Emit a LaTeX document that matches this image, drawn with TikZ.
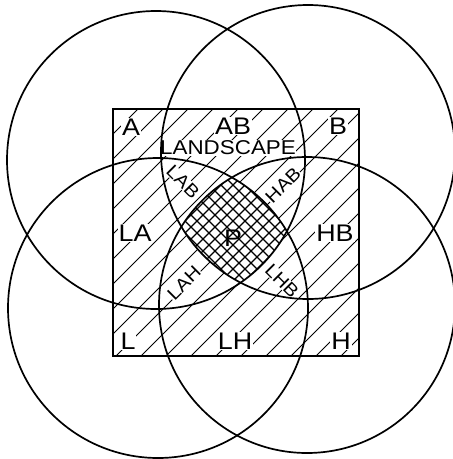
\documentclass[tikz,border=0pt]{standalone}
\usepackage{fontspec}
\setmainfont{Liberation Sans}[FakeStretch=1.12]
\begin{document}
\begin{tikzpicture}[x=1pt,y=-1pt,
  circ/.style={line width=1.7pt},
  frame/.style={line width=1.4pt},
  hatchline/.style={line width=1.0pt},
  gridline/.style={line width=1.4pt},
  lab/.style={fill=white, inner sep=1pt, font=\fontsize{24}{24}\selectfont},
  smalllab/.style={fill=white, inner sep=0.3pt, font=\fontsize{18}{18}\selectfont},
  midlab/.style={fill=white, inner sep=0.5pt, font=\fontsize{20}{20}\selectfont}]
\useasboundingbox (0,0) rectangle (453,459);
\coordinate (cA) at (156,160);
\coordinate (cB) at (308,152);
\coordinate (cL) at (158,308);
\coordinate (cH) at (307,305);
% hatching of the square
\begin{scope}
  \clip (113,109) rectangle (359,356);
  \foreach \c in {222,247,...,722} \draw[hatchline] (\c-460,460) -- (\c,0);
\end{scope}
% cross hatching of P
\begin{scope}
  \clip (cA) circle[radius=149pt];
  \clip (cB) circle[radius=147pt];
  \clip (cL) circle[radius=150pt];
  \clip (cH) circle[radius=148pt];
  \fill[white] (140,140) rectangle (330,330);
  \foreach \c in {334,346,...,600} \draw[gridline] (\c-330,330) -- (\c-130,130);
  \foreach \d in {-132,-120,...,132} \draw[gridline] (130+\d,130) -- (330+\d,330);
\end{scope}
% labels
\node[lab] (tA) at (131,127) {A};
\node[lab] (tAB) at (233,126) {AB};
\node[lab] (tB) at (338,126) {B};
\node[midlab] (tLand) at (228,148) {LANDSCAPE};
\node[smalllab, rotate=-45] (tLAB) at (183,182) {LAB};
\node[smalllab, rotate=45] (tHAB) at (283,185) {HAB};
\node[lab] (tLA) at (135,233) {LA};
\node[lab] (tHB) at (335,233) {HB};
\node[lab, fill=none] (tP) at (233,238) {P};
\node[smalllab, rotate=45] (tLAH) at (184,283) {LAH};
\node[smalllab, rotate=-45] (tLHB) at (282,281) {LHB};
\node[lab] (tL) at (128,341) {L};
\node[lab] (tLH) at (235,341) {LH};
\node[lab] (tH) at (341,341) {H};
% square and circles
\draw[frame] (113,109) rectangle (359,356);
\draw[circ] (cA) circle[radius=149pt];
\draw[circ] (cB) circle[radius=147pt];
\draw[circ] (cL) circle[radius=150pt];
\draw[circ] (cH) circle[radius=148pt];
\end{tikzpicture}
\end{document}
